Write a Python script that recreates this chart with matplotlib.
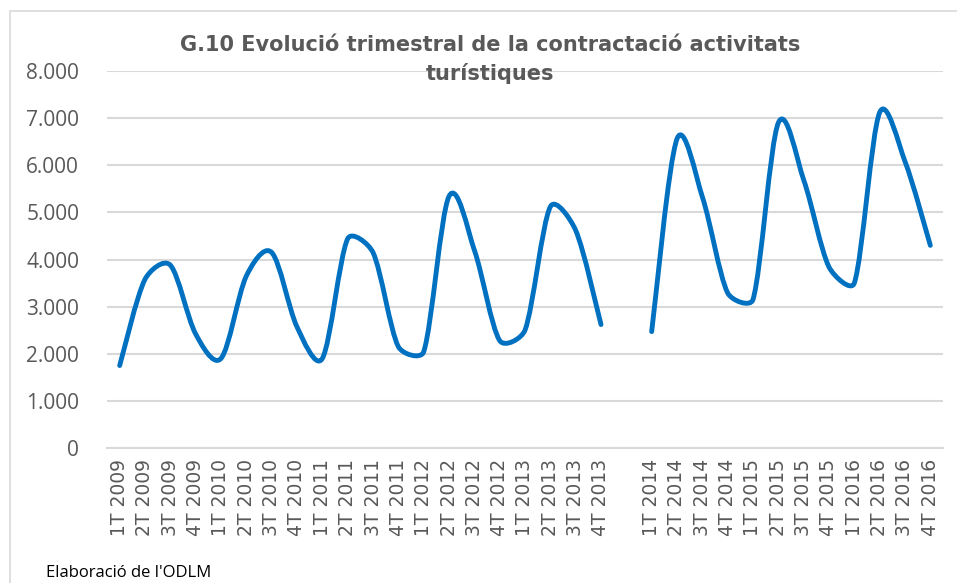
import matplotlib.pyplot as plt
import numpy as np
from matplotlib.path import Path
from matplotlib.patches import PathPatch, Rectangle

# quarter labels, one empty slot between 2013 and 2014
quarters = ['1T 2009', '2T 2009', '3T 2009', '4T 2009',
            '1T 2010', '2T 2010', '3T 2010', '4T 2010',
            '1T 2011', '2T 2011', '3T 2011', '4T 2011',
            '1T 2012', '2T 2012', '3T 2012', '4T 2012',
            '1T 2013', '2T 2013', '3T 2013', '4T 2013',
            '',
            '1T 2014', '2T 2014', '3T 2014', '4T 2014',
            '1T 2015', '2T 2015', '3T 2015', '4T 2015',
            '1T 2016', '2T 2016', '3T 2016', '4T 2016']
contracts = [1750, 3580, 3880, 2420, 1900, 3650, 4150, 2570,
             1900, 4440, 4150, 2150, 2040, 5340, 4200, 2280,
             2500, 5120, 4620, 2620,
             None,
             2470, 6560, 5330, 3290, 3150, 6900, 5690, 3840,
             3500, 7120, 6080, 4300]
yticks = [0, 1000, 2000, 3000, 4000, 5000, 6000, 7000, 8000]
ylabels = ['0', '1.000', '2.000', '3.000', '4.000', '5.000', '6.000', '7.000', '8.000']

grey = '#595959'
blue = '#0070C0'

# pixel size of one category / one unit, used so the smoothing works on screen shape
SX = 836 / 33.0
SY = 377 / 8000.0


def smooth_path(xs, ys):
    # smoothed line like excel: bezier through every point, handles kept short
    pts = np.column_stack([np.asarray(xs) * SX, np.asarray(ys) * SY]).astype(float)
    n = len(pts)
    verts = [pts[0]]
    codes = [Path.MOVETO]
    for i in range(n - 1):
        p0 = pts[max(i - 1, 0)]
        p1 = pts[i]
        p2 = pts[i + 1]
        p3 = pts[min(i + 2, n - 1)]
        seg = np.hypot(*(p2 - p1))
        d1 = (p2 - p0) / 6.0
        d2 = (p3 - p1) / 6.0
        for d in (d1, d2):
            m = np.hypot(*d)
            if m > seg / 3.0:
                d *= (seg / 3.0) / m
        verts += [p1 + d1, p2 - d2, p2]
        codes += [Path.CURVE4] * 3
    verts = np.array(verts)
    verts[:, 0] /= SX
    verts[:, 1] /= SY
    return Path(verts, codes)


fig = plt.figure(figsize=(9.57, 5.83), dpi=100)
ax = fig.add_axes([107/957, 1 - 448/583, 836/957, 377/583])

x = np.arange(len(quarters))
# split into the two runs around the empty slot
runs = []
cur = []
for i, v in enumerate(contracts):
    if v is None:
        runs.append(cur)
        cur = []
    else:
        cur.append(i)
runs.append(cur)

for r in runs:
    path = smooth_path(x[r], [contracts[i] for i in r])
    ax.add_patch(PathPatch(path, facecolor='none', edgecolor=blue, lw=3.5,
                           capstyle='round', joinstyle='round', zorder=3))

ax.set_xlim(-0.5, len(quarters) - 0.5)
ax.set_ylim(0, 8000)
ax.set_yticks(yticks)
ax.set_yticklabels(ylabels, fontsize=15, color=grey, family='Open Sans')
ax.set_xticks(x)
ax.set_xticklabels(quarters, rotation=90, fontsize=13.5, color=grey, family='DejaVu Sans')
ax.tick_params(length=0)
ax.tick_params(axis='x', pad=8)
ax.tick_params(axis='y', pad=20)
ax.grid(axis='y', color='#D9D9D9', lw=1.5)
ax.set_axisbelow(True)
for s in ['top', 'right', 'left']:
    ax.spines[s].set_visible(False)
ax.spines['bottom'].set_color('#D9D9D9')
ax.spines['bottom'].set_linewidth(1.5)

fig.text(490/957, 1 - 45/583, 'G.10 Evolució trimestral de la contractació activitats',
         ha='center', va='center', fontsize=15, fontweight='bold', color=grey)
fig.text(490/957, 1 - 73/583, 'turístiques',
         ha='center', va='center', fontsize=15, fontweight='bold', color=grey)
fig.text(46/957, 1 - 577/583, "Elaboració de l'ODLM", ha='left', va='baseline',
         fontsize=12, color='black', family='Open Sans')

# chart border, runs off the right and bottom edge
fig.patches.append(Rectangle((10/957, -0.2), 1.2, 1 - 11/583 + 0.2, transform=fig.transFigure,
                             fill=False, edgecolor='#D9D9D9', lw=1.2))

fig.savefig('out.png', dpi=100)
